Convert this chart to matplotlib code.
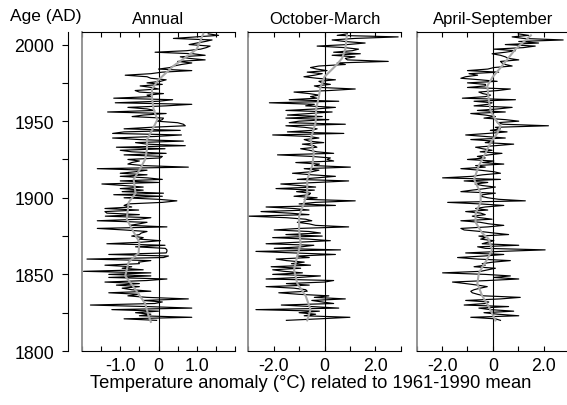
import matplotlib.pyplot as plt
import numpy as np

plt.rcParams['font.family'] = ['Liberation Sans', 'DejaVu Sans']
plt.rcParams['axes.unicode_minus'] = False
plt.rcParams['font.size'] = 12

years = np.arange(1820, 2008)

# annual mean anomalies, 1820-2007
annual = [
    -0.05, -0.9, 0.87, -0.5, -0.2, -0.6, 0.0, -1.22, 0.87, -0.3,
    -1.78, -0.1, 0.1, -0.4, 0.78, -0.3, -0.8, -0.5, -1.3, -0.2,
    -0.7, -0.95, -0.5, -1.1, -0.5, -1.4, -0.3, 0.22, -1.3, -0.2,
    -1.3, -0.2, -1.96, -0.4, -0.95, -0.7, -1.4, -0.5, -0.52, -0.2,
    -1.87, 0.13, 0.26, -1.3, 0.2, 0.22, 0.22, 0.18, -0.6, 0.17,
    -1.35, -0.45, 0.05, -0.5, -0.4, -0.7, -0.5, -0.45, -0.3, -0.9,
    -1.6, 0.22, -0.75, -0.5, -0.3, -1.6, -0.5, -0.2, -1.39, -0.5,
    -1.35, -1.4, -0.52, -1.4, -0.7, -0.9, -0.8, 0.1, 0.48, 0.0,
    -0.9, 0.1, -1.17, 0.13, -0.95, -0.4, -1.0, -0.4, -0.9, -1.48,
    0.0, -1.0, 0.1, -0.3, -1.0, -0.3, -1.0, -0.6, -0.3, -1.6,
    0.78, -0.4, -0.8, -0.7, -0.5, -0.8, 0.05, 0.1, -0.9, 0.2,
    -0.7, -1.0, 0.17, -1.1, 0.7, -0.3, -0.6, 0.65, -0.5, -1.2,
    -0.1, 0.6, -1.2, -0.9, 0.57, -0.9, -0.2, 0.7, 0.65, 0.5,
    -0.04, 0.1, 0.13, -0.69, -0.39, 0.2, -1.33, -0.1, -0.3, -0.8,
    0.2, 0.87, -1.13, 0.0, 0.37, -1.17, -0.2, -0.3, 0.13, -0.5,
    -0.61, 0.0, -0.18, -0.48, 0.1, -0.3, 0.05, 0.2, -0.2, -0.3,
    -0.87, -0.2, 0.1, 0.87, 0.0, 0.3, 0.4, 0.6, 0.87, 0.5,
    1.22, 0.8, 0.57, 1.22, 0.9, -0.09, 0.74, 1.1, 1.25, 1.35,
    0.8, 1.0, 1.22, 1.4, 0.39, 1.0, 1.57, 1.3]

# October-March anomalies, 1820-2007
octmar = [
    -1.5, -0.2, 1.0, -0.8, -0.35, -1.0, -0.2, -2.7, 0.56, -0.5,
    -1.7, 0.36, -0.09, -0.5, 0.82, -0.4, 0.17, -1.0, -1.8, -0.68,
    -0.74, -1.2, -2.3, -0.6, -1.5, 0.0, 0.36, -2.3, -1.0, -0.16,
    -2.04, -0.87, -1.6, -2.04, -0.94, -2.1, -0.55, -1.3, -0.8, -1.5,
    -1.9, -0.6, -1.07, 0.43, -1.2, -2.7, 0.63, -1.98, -0.9, -0.42,
    -2.3, -1.0, 0.23, -0.61, -2.04, -0.09, -1.52, -0.16, -0.61, -1.98,
    -1.0, 0.95, -0.35, -0.61, -1.07, -0.5, -0.74, -1.5, -3.0, -0.61,
    -1.4, -2.5, -0.61, -1.2, -2.3, 0.43, -1.0, -0.35, 1.21, -0.8,
    -0.29, -1.2, -0.6, -0.55, -1.1, -0.4, -1.91, -0.35, -1.0, -1.72,
    -0.3, 0.95, -1.07, -0.3, 0.43, -0.5, -1.26, -0.5, -0.22, -0.8,
    1.02, -0.4, -0.2, -1.13, 0.36, 0.1, 0.23, -0.5, -1.85, 0.36,
    -0.3, -0.6, -0.94, -0.3, -0.42, -0.87, -0.03, -0.61, -0.8, -0.22,
    -0.6, -2.04, 0.76, -1.46, -0.5, -0.29, -0.8, -1.52, 0.82, -1.39,
    -1.0, 0.17, -1.52, -0.09, -1.46, -0.6, 0.3, -1.52, -0.3, 0.43,
    -0.74, -0.4, -2.17, 0.56, -1.39, -0.3, -0.55, -0.22, -0.6, -1.2,
    0.2, 1.21, -0.16, -0.4, 0.23, -0.1, -0.22, 0.43, -0.3, -0.81,
    -0.4, -0.09, -0.68, 0.1, -0.3, -0.55, -0.22, 0.82, 0.5, 2.51,
    0.9, 0.82, 1.2, 0.3, 1.41, 0.36, 1.1, 1.34, 0.8, -0.29,
    0.9, 1.6, 0.8, 0.3, 1.2, 2.9, 0.5, 0.9]

# April-September anomalies, 1820-2007
aprsep = [
    0.3, 0.1, -0.87, 1.02, 0.2, -0.35, 0.82, -0.1, -0.55, 0.62,
    -1.13, -0.3, -0.16, -1.07, 0.3, 1.08, -0.35, -0.6, -0.81, -0.87,
    -0.74, -0.5, -0.22, -0.6, -1.07, -1.59, -0.2, 1.02, 0.04, 0.69,
    -0.3, -1.98, -0.48, -0.2, 0.1, -0.74, -0.3, -0.42, 0.0, 0.69,
    -0.6, -1.39, -0.35, 0.43, -1.07, 0.3, 2.06, -0.29, -0.6, 1.02,
    -0.42, -0.2, 0.04, -0.48, -0.29, -0.55, 0.62, 0.04, -0.48, -1.13,
    -1.26, -0.2, 0.43, -0.16, -0.5, -1.26, -0.03, -0.5, -0.81, -0.3,
    -0.48, -1.07, -0.2, -0.68, -0.3, 0.43, -0.5, -1.78, 1.28, 0.23,
    -0.2, -0.48, -0.4, 0.1, -1.26, -0.81, -0.3, 0.1, -0.42, -0.7,
    -0.2, -1.13, 0.3, -1.98, -0.81, -0.4, 0.3, 0.04, -0.5, -1.26,
    -0.3, -0.68, 0.43, -0.4, 0.04, -1.0, -0.3, -0.61, -0.16, 0.36,
    -0.5, -0.03, -0.4, -0.68, 0.1, 0.82, -0.3, 0.04, -0.87, 0.49,
    -0.3, -1.07, -0.2, 0.56, -0.1, 0.3, 0.1, 2.19, 0.4, 0.17,
    1.02, 0.49, -0.35, 0.1, -0.3, -0.87, 0.49, -0.61, 0.2, 0.76,
    -0.74, -0.2, -0.03, -0.74, 0.89, -1.2, -0.3, -0.09, -0.4, -0.55,
    0.2, 0.69, -1.0, -0.3, -0.29, -1.0, 0.17, -0.5, -1.26, -1.07,
    -0.6, -0.94, 0.23, -1.0, -0.2, 0.04, 0.76, 0.49, 0.36, 0.3,
    1.02, 0.6, 0.49, 0.3, -0.03, 0.5, 0.89, 0.04, 1.2, 1.67,
    0.49, 1.8, 1.02, 2.77, 1.2, 0.76, 1.41, 1.0]

# smoothed curves (grey)
annual_sm_yr = [1819, 1823, 1831, 1840, 1849, 1858, 1864, 1871, 1879, 1886, 1897, 1903,
                1912, 1918, 1925, 1932, 1938, 1945, 1951, 1958, 1965, 1971, 1977, 1986,
                1997, 2007]
annual_sm = [-0.2, -0.26, -0.35, -0.6, -0.87, -0.78, -0.52, -0.5, -0.68, -0.83, -0.78, -0.6,
             -0.65, -0.5, -0.35, -0.3, -0.3, -0.15, -0.03, -0.13, -0.17, -0.17, 0.0, 0.39,
             1.0, 1.17]
octmar_sm_yr = [1820, 1827, 1836, 1844, 1853, 1862, 1870, 1879, 1888, 1897, 1903, 1912,
                1921, 1929, 1938, 1949, 1958, 1966, 1972, 1979, 1986, 1991, 1997, 2006]
octmar_sm = [-0.68, -0.55, -0.74, -1.07, -1.2, -1.07, -0.94, -1.0, -1.0, -0.8, -0.68, -0.68,
             -0.48, -0.42, -0.55, -0.35, -0.33, -0.22, -0.16, 0.0, 0.43, 0.69, 0.82, 0.88]
aprsep_sm_yr = [1820, 1829, 1836, 1844, 1851, 1860, 1866, 1873, 1877, 1884, 1890, 1897,
                1903, 1912, 1921, 1929, 1936, 1942, 1947, 1951, 1957, 1964, 1973, 1979,
                1986, 1997, 2006]
aprsep_sm = [0.1, -0.16, -0.42, -0.61, -0.55, -0.22, -0.03, -0.16, -0.42, -0.68, -0.68, -0.48,
             -0.48, -0.74, -0.55, -0.29, -0.09, 0.17, 0.3, 0.1, -0.09, -0.16, -0.22, 0.0,
             0.36, 0.89, 1.5]

titles = ['Annual', 'October-March', 'April-September']
series = [annual, octmar, aprsep]
smooth = [(annual_sm_yr, annual_sm), (octmar_sm_yr, octmar_sm), (aprsep_sm_yr, aprsep_sm)]
xlims = [(-2, 2), (-3, 3), (-3, 3)]
xticks = [np.arange(-2, 2.01, 0.5), np.arange(-3, 3.01, 1), np.arange(-3, 3.01, 1)]
xlabels = [{-1.0: '-1.0', 0.0: '0', 1.0: '1.0'},
           {-2.0: '-2.0', 0.0: '0', 2.0: '2.0'},
           {-2.0: '-2.0', 0.0: '0', 2.0: '2.0'}]

W, H = 567, 406
fig = plt.figure(figsize=(W / 100, H / 100), dpi=100)
top_px, bot_px = 33.3, 352
panel_px = [(82, 235), (248.3, 400.7), (416.7, 569)]

def add_px_axes(x0, x1):
    return fig.add_axes([x0 / W, 1 - bot_px / H, (x1 - x0) / W, (bot_px - top_px) / H])

ylim = (1800, 2008)

# separate year axis
yax = add_px_axes(68, 69)
yax.set_ylim(*ylim)
yax.patch.set_visible(False)
for s in ['top', 'right', 'bottom']:
    yax.spines[s].set_visible(False)
yax.spines['left'].set_linewidth(0.8)
yax.set_xticks([])
yax.set_yticks(np.arange(1800, 2001, 25))
yax.set_yticklabels([str(y) if y % 50 == 0 else '' for y in range(1800, 2001, 25)])
yax.tick_params(axis='y', direction='out', length=4.5, width=0.8, pad=5.5, labelsize=12.8)
fig.text(10 / W, 1 - 17 / H, 'Age (AD)', ha='left', va='center', fontsize=12.5)

for i, (x0, x1) in enumerate(panel_px):
    ax = add_px_axes(x0, x1)
    ax.set_ylim(*ylim)
    ax.set_xlim(*xlims[i])
    ax.axvline(0, color='black', lw=0.8, zorder=1)
    ax.plot(series[i], years, color='black', lw=0.85, zorder=2)
    ax.plot(smooth[i][1], smooth[i][0], color='#a8a8a8', lw=1.5, zorder=3)
    ax.set_yticks([])
    ax.set_xticks(xticks[i])
    ax.set_xticklabels([xlabels[i].get(round(float(t), 1), '') for t in xticks[i]])
    ax.tick_params(axis='x', direction='in', top=True, bottom=True, length=3.8, width=0.8,
                   pad=4, labelsize=12.8)
    ax.spines['right'].set_visible(False)
    ax.spines['left'].set_color('#8c8c8c')
    ax.spines['left'].set_linewidth(1.3)
    ax.spines['top'].set_linewidth(0.8)
    ax.spines['bottom'].set_linewidth(0.8)
    ax.text(np.mean(xlims[i]), ylim[1] + 4, titles[i], ha='center', va='bottom', fontsize=12)

fig.text(311 / W, 1 - 384 / H, 'Temperature anomaly (\u00b0C) related to 1961-1990 mean',
         ha='center', va='center', fontsize=13.2)

fig.savefig('out.png', dpi=100)
